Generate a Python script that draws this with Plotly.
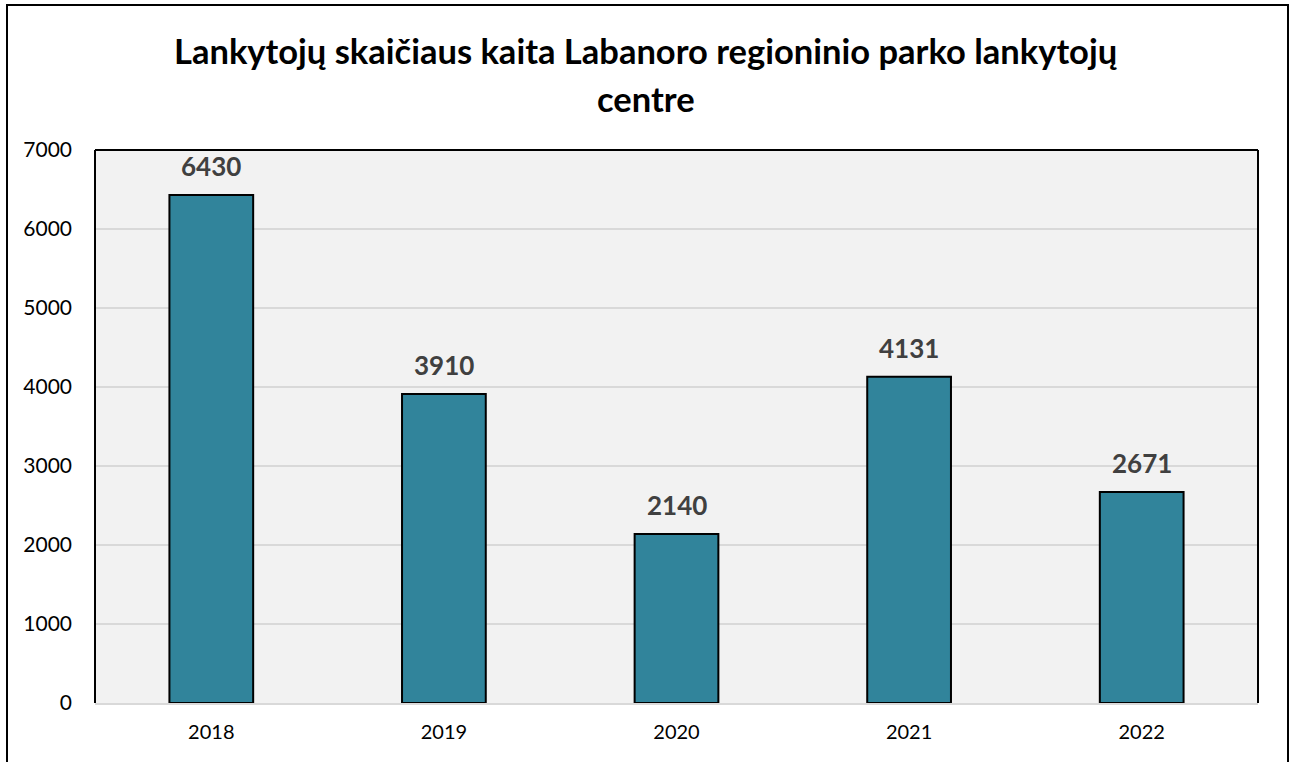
import plotly.graph_objects as go

years = ["2018", "2019", "2020", "2021", "2022"]
visitors = [6430, 3910, 2140, 4131, 2671]
y_ticks = [0, 1000, 2000, 3000, 4000, 5000, 6000, 7000]
title_line1 = "Lankytojų skaičiaus kaita Labanoro regioninio parko lankytojų"
title_line2 = "centre"

W, H = 1293, 762
L, R, T, B = 95, 1258, 150, 703
pw, ph = R - L, B - T

def px(x):
    return (x - L) / pw

def py(y):
    return (B - y) / ph

fig = go.Figure()
fig.add_trace(go.Bar(
    x=years, y=visitors,
    marker=dict(color="#31849B", line=dict(color="#000000", width=2)),
    width=0.36,
    hoverinfo="x+y",
))

for i, v in enumerate(visitors):
    fig.add_annotation(x=i, y=v, xref="x", yref="y", text=f"<b>{v}</b>",
                       showarrow=False, yanchor="bottom", yshift=11,
                       font=dict(family="Lato", size=26, color="#404040"))

fig.add_annotation(x=px(646), y=py(51), xref="paper", yref="paper", xanchor="center", yanchor="middle",
                   text=f"<b>{title_line1}</b>", showarrow=False,
                   font=dict(family="Lato", size=34.5, color="#000000"))
fig.add_annotation(x=px(646), y=py(99), xref="paper", yref="paper", xanchor="center", yanchor="middle",
                   text=f"<b>{title_line2}</b>", showarrow=False,
                   font=dict(family="Lato", size=34.5, color="#000000"))

shapes = [
    dict(type="rect", xref="paper", yref="paper", x0=px(7), x1=px(1288), y0=py(775), y1=py(5),
         line=dict(color="#000000", width=2), layer="below"),
    dict(type="line", xref="paper", yref="paper", x0=0, x1=0, y0=0, y1=1, line=dict(color="#000000", width=2)),
    dict(type="line", xref="paper", yref="paper", x0=0, x1=1, y0=1, y1=1, line=dict(color="#000000", width=2)),
    dict(type="line", xref="paper", yref="paper", x0=1, x1=1, y0=0, y1=1, line=dict(color="#000000", width=2)),
]

fig.update_layout(
    width=W, height=H,
    margin=dict(l=L, r=W - R, t=T, b=H - B, pad=0),
    paper_bgcolor="#FFFFFF",
    plot_bgcolor="#F2F2F2",
    showlegend=False,
    shapes=shapes,
    bargap=0.64,
    font=dict(family="Lato", size=20, color="#000000"),
    xaxis=dict(type="category", range=[-0.5, len(years) - 0.5], showgrid=False, showline=True,
               linecolor="#D9D9D9", linewidth=2,
               ticks="", ticklabelstandoff=10, tickfont=dict(size=20, color="#000000")),
    yaxis=dict(range=[0, 7000], tickvals=y_ticks, showgrid=True, gridcolor="#D9D9D9", gridwidth=1.5,
               zeroline=False, showline=False, ticks="", ticklabelstandoff=22,
               tickfont=dict(size=21, color="#000000")),
)

fig.write_html("out.html")
